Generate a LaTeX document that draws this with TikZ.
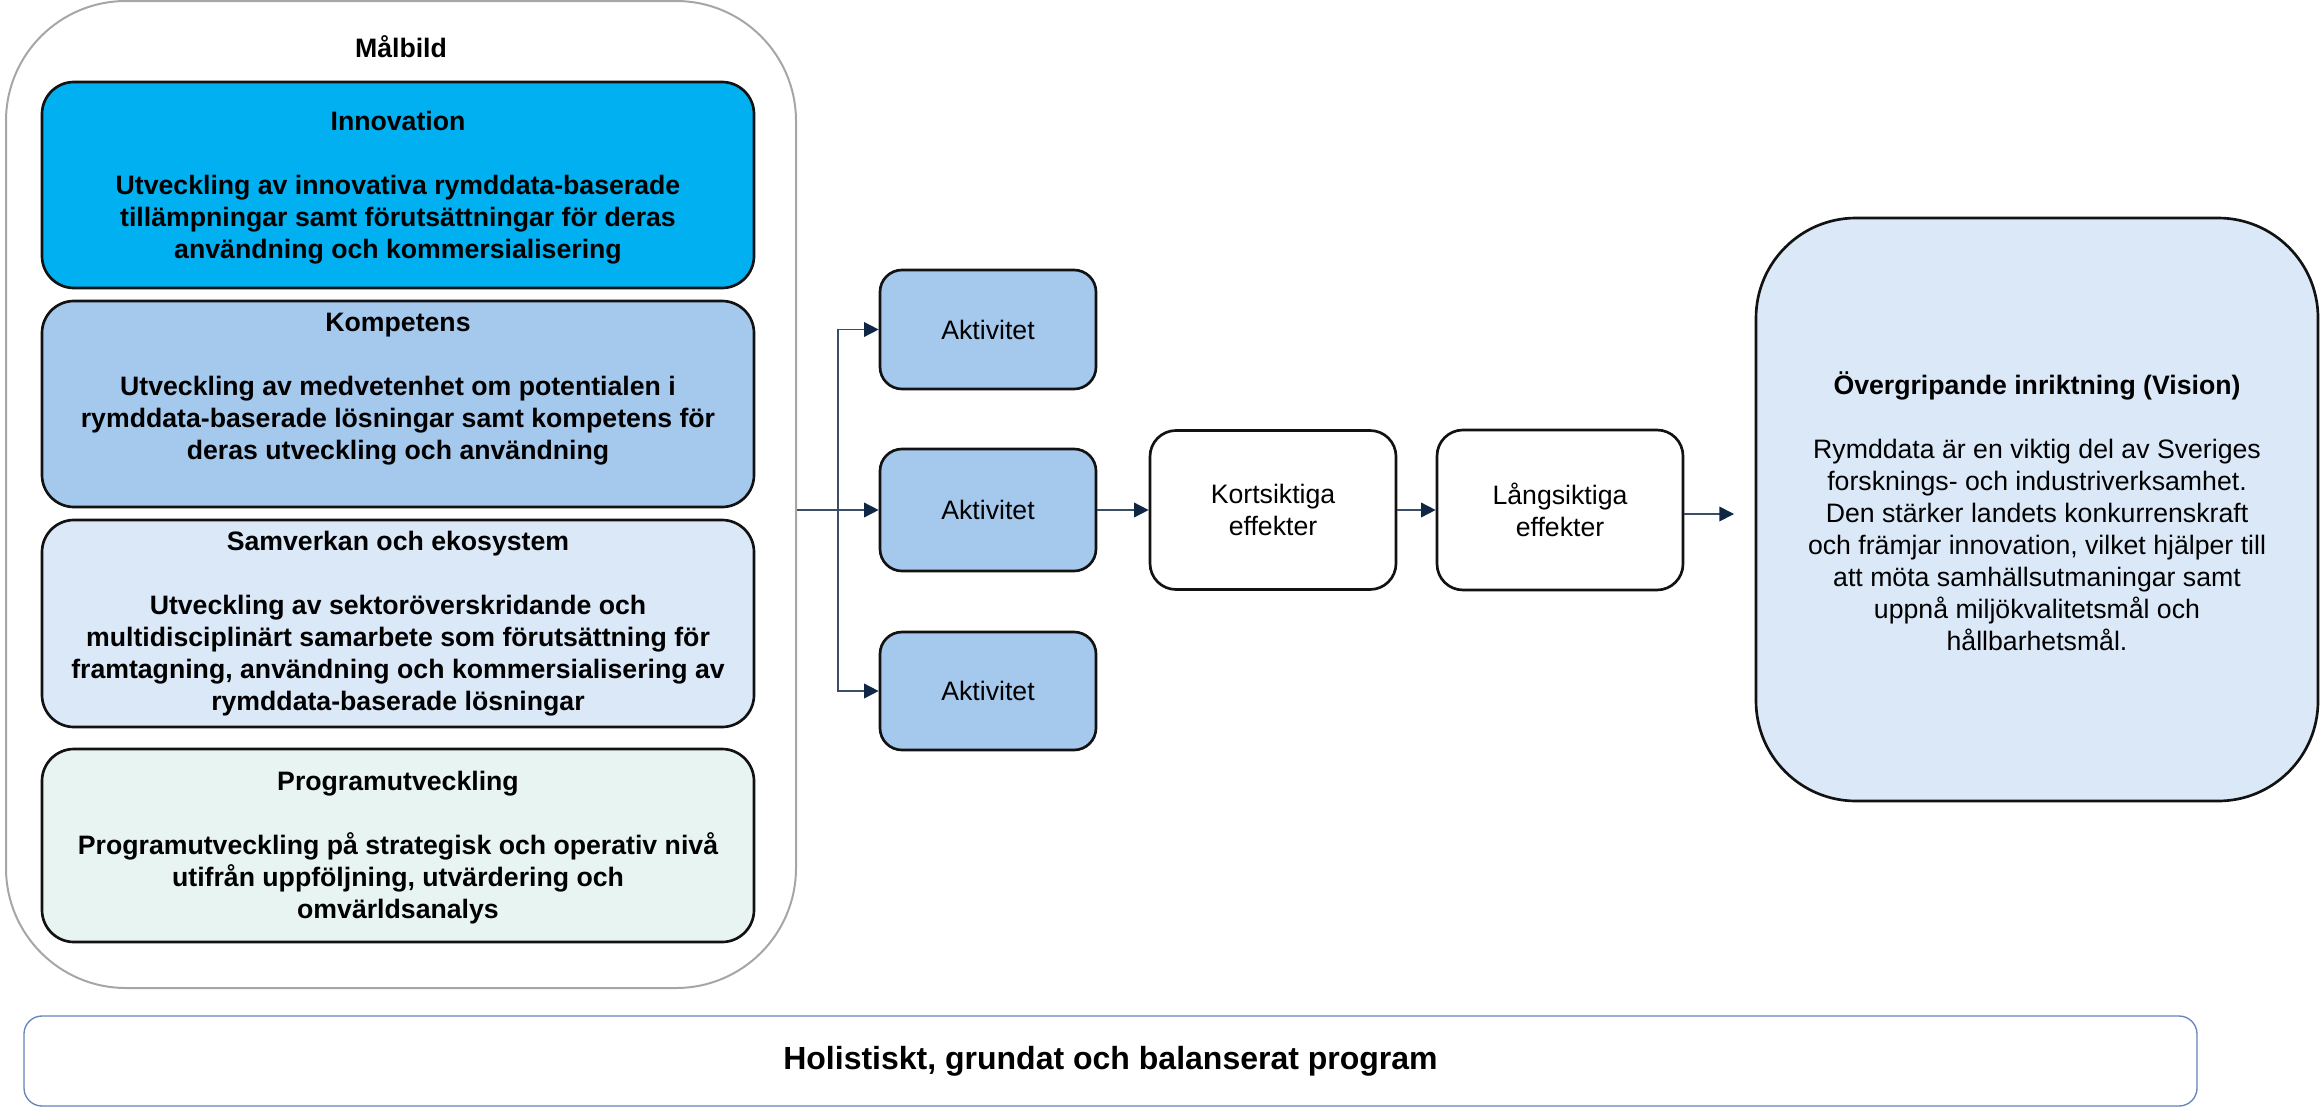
\documentclass[tikz,border=0pt]{standalone}
\usepackage{fontspec}
\setmainfont{Liberation Sans}
\usetikzlibrary{arrows.meta}
\definecolor{innoc}{HTML}{00B0F0}
\definecolor{kompc}{HTML}{A5C8ED}
\definecolor{samvc}{HTML}{DAE8F7}
\definecolor{progc}{HTML}{E8F4F2}
\definecolor{edgec}{HTML}{121212}
\definecolor{outerc}{HTML}{A6A6A6}
\definecolor{botc}{HTML}{6584BC}
\definecolor{linec}{HTML}{3A4E66}
\definecolor{tipc}{HTML}{0F2744}
\begin{document}
\begin{tikzpicture}[x=0.75pt,y=-0.75pt,
  goalbox/.style={draw=edgec,line width=2pt,rounded corners=24pt,minimum width=534pt,inner sep=0pt},
  goaltext/.style={align=center,inner sep=0pt,font=\fontsize{20}{24}\selectfont\bfseries},
  actbox/.style={draw=edgec,line width=2pt,rounded corners=16.5pt,fill=kompc,minimum width=162pt,inner sep=0pt,align=center,font=\fontsize{20}{24}\selectfont},
  effbox/.style={draw=edgec,line width=2pt,rounded corners=19.5pt,fill=white,minimum width=184.5pt,inner sep=0pt,align=center,font=\fontsize{20}{24}\selectfont},
  conn/.style={draw=linec,line width=1.2pt,-{Triangle[length=11pt,width=11pt,color=tipc]}}
]
\useasboundingbox (0,0) rectangle (2323,1110);

% Målbild container
\node[draw=outerc,line width=1.5pt,rounded corners=90pt,minimum width=592.5pt,minimum height=740.25pt,inner sep=0pt] (malbild) at (401,494.5) {};
\node[goaltext] (malbildt) at (401,47) {Målbild};

% goal boxes
\node[goalbox,fill=innoc,minimum height=154.5pt] (inno) at (398,185) {};
\node[goaltext] (innot) at (398,187.5) {Innovation\\[24pt]
Utveckling av innovativa rymddata-baserade\\
tillämpningar samt förutsättningar för deras\\
användning och kommersialisering};

\node[goalbox,fill=kompc,minimum height=154.5pt] (komp) at (398,404) {};
\node[goaltext] (kompt) at (398,389.5) {Kompetens\\[24pt]
Utveckling av medvetenhet om potentialen i\\
rymddata-baserade lösningar samt kompetens för\\
deras utveckling och användning};

\node[goalbox,fill=samvc,minimum height=155.25pt] (samv) at (398,623.5) {};
\node[goaltext] (samvt) at (398,624) {Samverkan och ekosystem\\[24pt]
Utveckling av sektoröverskridande och\\
multidisciplinärt samarbete som förutsättning för\\
framtagning, användning och kommersialisering av\\
rymddata-baserade lösningar};

\node[goalbox,fill=progc,minimum height=144.75pt] (prog) at (398,845.5) {};
\node[goaltext] (progt) at (398,847.5) {Programutveckling\\[24pt]
Programutveckling på strategisk och operativ nivå\\
utifrån uppföljning, utvärdering och\\
omvärldsanalys};

% activities
\node[actbox,minimum height=89.25pt] (a1) at (988,329.5) {Aktivitet};
\node[actbox,minimum height=91.5pt] (a2) at (988,510) {Aktivitet};
\node[actbox,minimum height=88.5pt] (a3) at (988,691) {Aktivitet};

% effects
\node[effbox,minimum height=119.25pt] (kort) at (1273,510) {Kortsiktiga\\effekter};
\node[effbox,minimum height=120pt] (lang) at (1560,510) {Långsiktiga\\effekter};

% vision
\node[draw=edgec,line width=2pt,rounded corners=75pt,fill=samvc,minimum width=421.5pt,minimum height=437.25pt,inner sep=0pt] (vision) at (2037,509.5) {};
\node[align=center,inner sep=0pt,font=\fontsize{20}{24}\selectfont] (visiont) at (2037,511) {\textbf{Övergripande inriktning (Vision)}\\[24pt]
Rymddata är en viktig del av Sveriges\\
forsknings- och industriverksamhet.\\
Den stärker landets konkurrenskraft\\
och främjar innovation, vilket hjälper till\\
att möta samhällsutmaningar samt\\
uppnå miljökvalitetsmål och\\
hållbarhetsmål.};

% bottom banner
\node[draw=botc,line width=1pt,rounded corners=13.5pt,fill=white,minimum width=1629.75pt,minimum height=67.5pt,inner sep=0pt,font=\fontsize{24}{29}\selectfont\bfseries] (prog2) at (1110.5,1061) {Holistiskt, grundat och balanserat program};

% connectors
\coordinate (hub) at (838,510);
\coordinate (vend) at (1734,514);
\draw[conn] (malbild.east |- a2.west) -- (a2.west);
\draw[conn] (hub) |- (a1.west);
\draw[conn] (hub) |- (a3.west);
\draw[conn] (a2) -- (kort);
\draw[conn] (kort) -- (lang);
\draw[conn] (lang.east |- vend) -- (vend);
\end{tikzpicture}
\end{document}
